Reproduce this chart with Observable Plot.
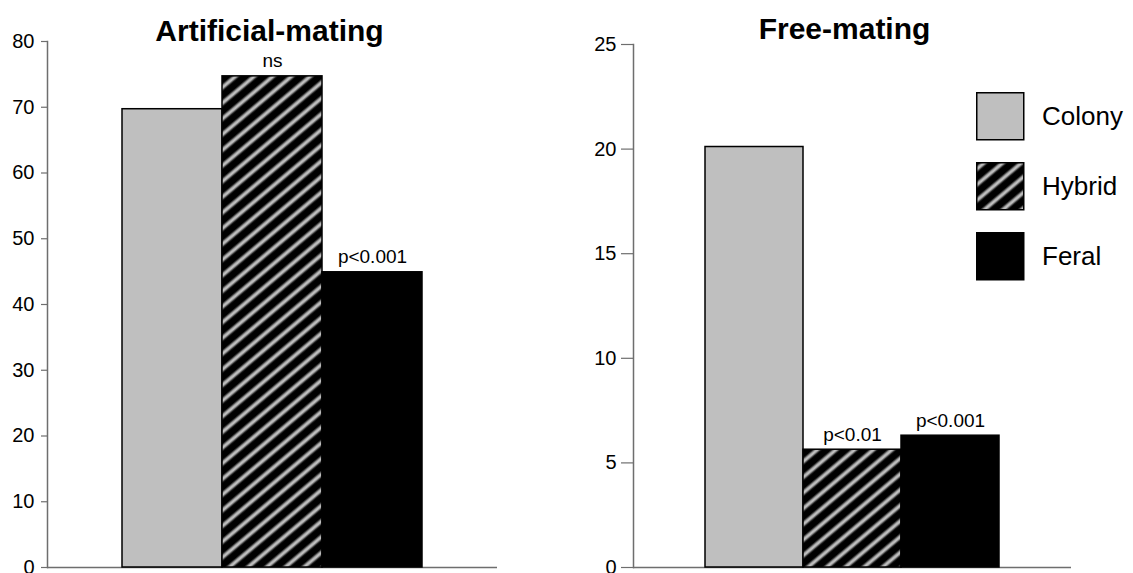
<!DOCTYPE html>
<html><head><meta charset="utf-8">
<script src="https://cdn.jsdelivr.net/npm/d3@7"></script>
<script src="https://cdn.jsdelivr.net/npm/@observablehq/plot@0.6"></script>
<style>
body{margin:0;background:#fff;font-family:"Liberation Sans",Arial,sans-serif;}
#wrap{position:relative;width:1133px;height:573px;overflow:hidden;background:#fff;}
#left{position:absolute;left:0;top:0;}
#right{position:absolute;left:560px;top:0;}
#legend{position:absolute;left:976px;top:92px;width:157px;height:200px;}
.row{position:absolute;left:0;display:flex;align-items:center;height:48px;}
.row span{margin-left:17px;font-size:26px;color:#000;line-height:1;}
.row svg{display:block;}
</style></head><body>
<svg width="0" height="0" style="position:absolute">
  <defs>
    <linearGradient id="stripeGrad" x1="0" x2="1" y1="0" y2="0">
      <stop offset="0%" stop-color="#000"/>
      <stop offset="24%" stop-color="#000"/>
      <stop offset="42%" stop-color="#bdbdbd"/>
      <stop offset="56%" stop-color="#bdbdbd"/>
      <stop offset="74%" stop-color="#000"/>
      <stop offset="100%" stop-color="#000"/>
    </linearGradient>
    <pattern id="hatch" patternUnits="userSpaceOnUse" width="12" height="12" patternTransform="rotate(50)">
      <rect x="0" y="0" width="12" height="12" fill="url(#stripeGrad)"/>
    </pattern>
  </defs>
</svg>
<div id="wrap"><div id="left"></div><div id="right"></div><div id="legend"></div></div>
<script>
const groups = ["Colony", "Hybrid", "Feral"];
const artificialValues = [69.7, 74.7, 44.9];
const freeValues = [20.1, 5.63, 6.3];
const artificialLabels = ["", "ns", "p<0.001"];
const freeLabels = ["", "p<0.01", "p<0.001"];
const artificialTicks = [0, 10, 20, 30, 40, 50, 60, 70, 80];
const freeTicks = [0, 5, 10, 15, 20, 25];
const panelTitles = ["Artificial-mating", "Free-mating"];
const groupFills = ["#bfbfbf", "url(#hatch)", "#000000"];

const axisGray = "#6e6e6e";

function panel(values, labels, ticks, title, o) {
  const data = groups.map((g, i) => ({group: g, value: values[i], label: labels[i]}));
  return Plot.plot({
    width: o.width, height: 573,
    marginLeft: o.ml, marginRight: o.mr, marginTop: o.mt, marginBottom: 6,
    style: {fontFamily: "'Liberation Sans', Arial, sans-serif", fontSize: "20px", color: "#000", overflow: "visible", background: "transparent"},
    x: {domain: groups, paddingInner: 0, paddingOuter: o.po, axis: null},
    y: {domain: [0, o.ymax], axis: null},
    color: {domain: groups, range: groupFills},
    marks: [
      Plot.ruleY([0], {stroke: axisGray, strokeWidth: 1.5}),
      Plot.barY(data, {x: "group", y: "value", fill: "group", stroke: "#000", strokeWidth: 1.5}),
      Plot.frame({anchor: "left", stroke: axisGray, strokeWidth: 1.5}),
      Plot.axisY({ticks, tickSize: o.ts, tickPadding: o.tp, tickFormat: d => String(d), label: null, stroke: axisGray, strokeWidth: 1.2, fill: "#000", fontSize: 20}),
      Plot.text(data, {x: "group", y: "value", text: "label", lineAnchor: "bottom", dy: -9, fontSize: 19, fill: "#000"}),
      Plot.text([title], {frameAnchor: "top", lineAnchor: "bottom", dy: o.tdy, dx: o.tdx, fontSize: 30, fontWeight: "bold", fill: "#000"})
    ]
  });
}

document.getElementById("left").append(
  panel(artificialValues, artificialLabels, artificialTicks, panelTitles[0],
    {width: 530, ml: 47, mr: 33, mt: 41, po: 0.743, ymax: 80, ts: 6, tp: 7, tdy: -1, tdx: -3})
);
document.getElementById("right").append(
  panel(freeValues, freeLabels, freeTicks, panelTitles[1],
    {width: 573, ml: 73, mr: 62, mt: 44, po: 0.727, ymax: 25, ts: 12, tp: 5, tdy: -6, tdx: -8})
);

const legend = d3.select("#legend");
groups.forEach((g, i) => {
  const row = legend.append("div").attr("class", "row").style("top", `${i * 70}px`);
  const s = row.append("svg").attr("width", 49).attr("height", 49);
  s.append("rect").attr("x", 0.75).attr("y", 0.75).attr("width", 47).attr("height", 47)
    .attr("fill", groupFills[i]).attr("stroke", "#000").attr("stroke-width", 1.5);
  row.append("span").text(g);
});
</script>
</body></html>
